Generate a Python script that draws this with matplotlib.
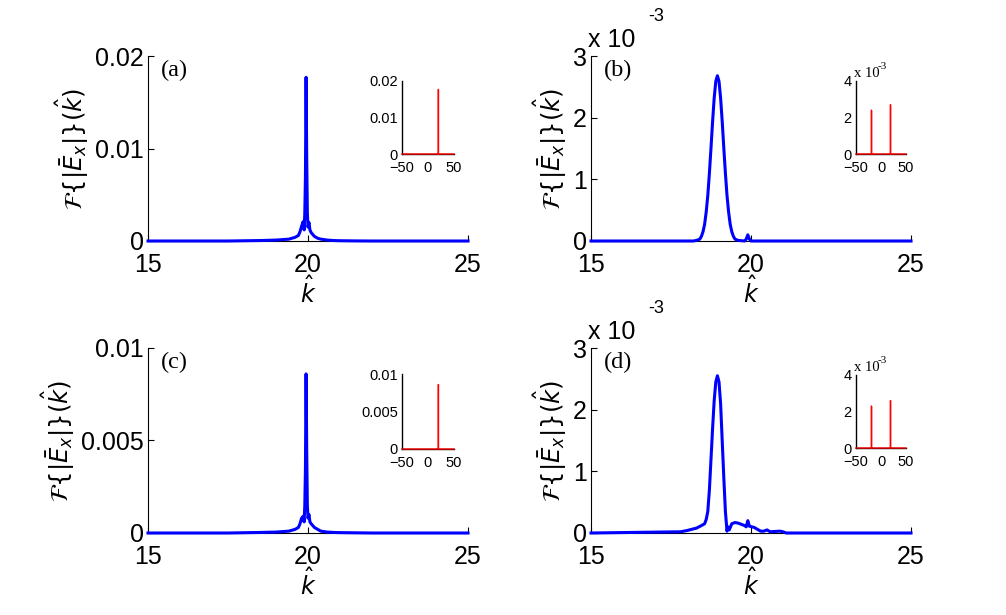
import numpy as np
import matplotlib
matplotlib.use('Agg')
import matplotlib.pyplot as plt
from matplotlib.ticker import FuncFormatter

# ---- data ----
# (a) spectrum, sharp line at k = 20
k_a = [15, 17.5, 18.5, 19.0, 19.4, 19.6, 19.7, 19.75, 19.8, 19.85, 19.88, 19.9, 19.92,
       19.94, 19.96, 19.98, 20.0, 20.03, 20.06, 20.1, 20.15, 20.2, 20.3, 20.4, 20.6,
       20.8, 21.0, 21.5, 22.0, 25]
E_a = [0, 0, 0.00005, 0.0001, 0.0002, 0.0004, 0.0006, 0.0010, 0.0016, 0.0021, 0.0012,
       0.0030, 0.0070, 0.0177, 0.0090, 0.0030, 0.0015, 0.0020, 0.0012, 0.0009, 0.0007,
       0.0005, 0.0003, 0.0002, 0.0001, 0.00005, 0.00003, 0.00001, 0, 0]

# (b) spectrum, broad peak near k = 19
k_b = [15, 18.2, 18.3, 18.4, 18.45, 18.5, 18.55, 18.6, 18.65, 18.7, 18.75, 18.8, 18.85,
       18.9, 18.95, 19.0, 19.05, 19.1, 19.15, 19.2, 19.25, 19.3, 19.35, 19.4, 19.45,
       19.5, 19.6, 19.8, 19.85, 19.9, 19.95, 20.0, 25]
E_b = [0, 0, 0.00001, 0.00003, 0.000075, 0.00015, 0.00027, 0.00047, 0.00074, 0.00110,
       0.00151, 0.00194, 0.00232, 0.00259, 0.00268, 0.00259, 0.00232, 0.00194, 0.00151,
       0.00110, 0.00074, 0.00047, 0.00027, 0.00015, 0.000075, 0.00003, 0.00001, 0,
       0.00003, 0.00010, 0.00003, 0, 0]

# (c) spectrum, sharp line at k = 20
k_c = [15, 17.5, 18.5, 19.0, 19.4, 19.6, 19.7, 19.75, 19.8, 19.85, 19.88, 19.9, 19.92,
       19.94, 19.96, 19.98, 20.0, 20.03, 20.06, 20.1, 20.15, 20.2, 20.3, 20.4, 20.6,
       20.8, 21.0, 21.5, 22.0, 25]
E_c = [0, 0, 0.00003, 0.00005, 0.0001, 0.0002, 0.0003, 0.0005, 0.0008, 0.0009, 0.0006,
       0.0015, 0.0035, 0.0086, 0.0045, 0.0015, 0.0008, 0.0010, 0.0006, 0.0005, 0.0004,
       0.0003, 0.0002, 0.0001, 0.00005, 0.00003, 0.00002, 0.00001, 0, 0]

# (d) spectrum, peak near k = 19 with a side band
k_d = [15, 17.8, 18.0, 18.3, 18.45, 18.55, 18.6, 18.65, 18.7, 18.75, 18.8, 18.85, 18.9,
       18.95, 19.0, 19.05, 19.1, 19.15, 19.2, 19.25, 19.28, 19.32, 19.4, 19.5, 19.6,
       19.7, 19.8, 19.85, 19.9, 19.95, 20.1, 20.2, 20.3, 20.4, 20.5, 20.6, 20.9, 21.0,
       21.1, 25]
E_d = [0, 0.00002, 0.00004, 0.00008, 0.00012, 0.00015, 0.00022, 0.00035, 0.0007,
       0.0012, 0.0017, 0.00215, 0.00245, 0.00255, 0.00245, 0.0021, 0.0015, 0.0009,
       0.00035, 0.00003, 0.0001, 0.00005, 0.00015, 0.00017, 0.00016, 0.00014, 0.00012,
       0.0001, 0.0002, 0.00011, 0.00009, 0.00006, 0.00003, 0.00003, 0.00005, 0.00002,
       0.00003, 0.00002, 0, 0]

# insets: full spectrum over -50..50
k_in_1 = [-50, 19.9, 20.0, 20.1, 50]
E_in_a = [0, 0, 0.0177, 0, 0]
E_in_c = [0, 0, 0.0086, 0, 0]
k_in_2 = [-50, -19.1, -19.0, -18.9, 18.9, 19.0, 19.1, 50]
E_in_b = [0, 0, 0.0024, 0, 0, 0.0027, 0, 0]
E_in_d = [0, 0, 0.0023, 0, 0, 0.0026, 0, 0]

panels = [
    dict(k=k_a, E=E_a, ymax=0.02, yt=[0, 0.01, 0.02], lab='(a)', sci=False,
         kin=k_in_1, Ein=E_in_a, iymax=0.02, iyt=[0, 0.01, 0.02]),
    dict(k=k_b, E=E_b, ymax=0.003, yt=[0, 0.001, 0.002, 0.003], lab='(b)', sci=True,
         kin=k_in_2, Ein=E_in_b, iymax=0.004, iyt=[0, 0.002, 0.004]),
    dict(k=k_c, E=E_c, ymax=0.01, yt=[0, 0.005, 0.01], lab='(c)', sci=False,
         kin=k_in_1, Ein=E_in_c, iymax=0.01, iyt=[0, 0.005, 0.01]),
    dict(k=k_d, E=E_d, ymax=0.003, yt=[0, 0.001, 0.002, 0.003], lab='(d)', sci=True,
         kin=k_in_2, Ein=E_in_d, iymax=0.004, iyt=[0, 0.002, 0.004]),
]

W, H = 1006, 615
fig = plt.figure(figsize=(W / 100, H / 100), dpi=100)
plt.rcParams['font.family'] = 'Liberation Sans'

main_pos = [(148, 241), (591, 241), (148, 533), (591, 533)]   # left, bottom (px)
inset_pos = [(402, 154, 52, 73), (856, 154, 50, 73),
             (402, 449, 52, 75), (856, 448, 50, 73)]
aw, ah = 320, 185

def gen_fmt(v, pos):
    return '%g' % v

def sci_fmt(v, pos):
    return '%g' % round(v * 1e3, 6)

for p, (x0, yb), (ix, iyb, iw, ih) in zip(panels, main_pos, inset_pos):
    ax = fig.add_axes([x0 / W, (H - yb) / H, aw / W, ah / H])
    ax.plot(p['k'], p['E'], color='blue', linewidth=2.2, clip_on=False, zorder=3)
    ax.set_xlim(15, 25)
    ax.set_ylim(0, p['ymax'])
    ax.set_xticks([15, 20, 25])
    ax.set_yticks(p['yt'])
    ax.yaxis.set_major_formatter(FuncFormatter(sci_fmt if p['sci'] else gen_fmt))
    ax.tick_params(direction='in', length=4, width=0.8, labelsize=18)
    ax.tick_params(axis='x', pad=9)
    ax.tick_params(axis='y', pad=3)
    for s in ['top', 'right']:
        ax.spines[s].set_visible(False)
    for s in ['left', 'bottom']:
        ax.spines[s].set_linewidth(0.8)
    ax.set_xlabel(r'$\hat{k}$', fontsize=17, labelpad=-1)
    ax.set_ylabel(r'$\mathcal{F}\{|\bar{E}_x|\}(\hat{k})$', fontsize=17.5, labelpad=3)
    ax.text(0.04, 0.98, p['lab'], transform=ax.transAxes, fontsize=17.5,
            family='Liberation Serif', va='top', ha='left')
    if p['sci']:
        ax.text(-0.01, 1.05, 'x 10', transform=ax.transAxes, fontsize=18,
                va='baseline', ha='left')
        ax.text(0.178, 1.19, '-3', transform=ax.transAxes, fontsize=13,
                va='baseline', ha='left')

    # inset
    ai = fig.add_axes([ix / W, (H - iyb) / H, iw / W, ih / H])
    ai.plot(p['kin'], p['Ein'], color='red', linewidth=1.0, clip_on=False, zorder=3)
    ai.set_xlim(-50, 50)
    ai.set_ylim(0, p['iymax'])
    ai.set_xticks([-50, 0, 50])
    ai.set_yticks(p['iyt'])
    ai.yaxis.set_major_formatter(FuncFormatter(sci_fmt if p['sci'] else gen_fmt))
    ai.tick_params(direction='in', length=0, labelsize=10.5)
    ai.tick_params(axis='x', pad=5)
    ai.tick_params(axis='y', pad=3)
    for s in ['top', 'right']:
        ai.spines[s].set_visible(False)
    for s in ['left', 'bottom']:
        ai.spines[s].set_linewidth(1.0)
    if p['sci']:
        ai.text(-0.04, 1.05, 'x 10', transform=ai.transAxes, fontsize=10.5,
                family='Liberation Serif', va='baseline', ha='left')
        ai.text(0.44, 1.17, '-3', transform=ai.transAxes, fontsize=8,
                family='Liberation Serif', va='baseline', ha='left')

fig.savefig('out.png', dpi=100)
